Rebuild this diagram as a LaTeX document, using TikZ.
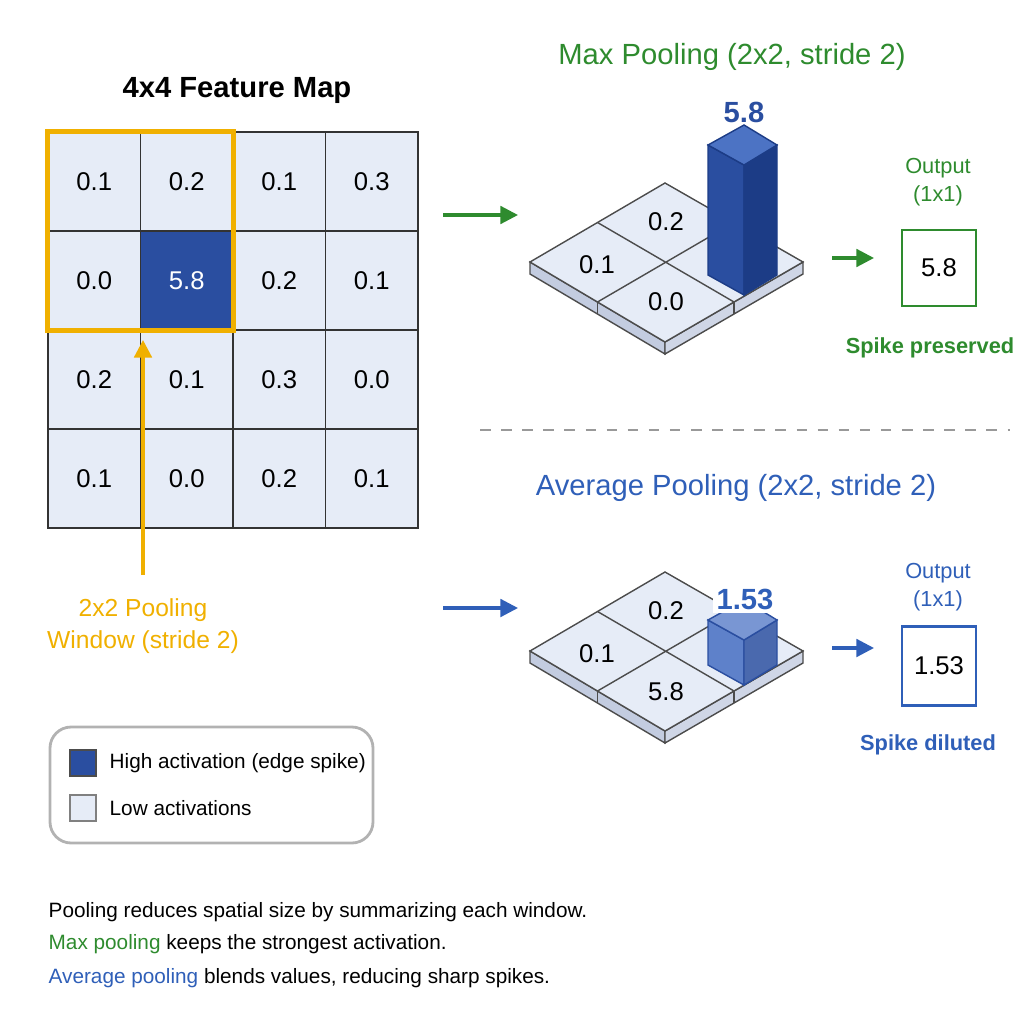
\documentclass[tikz,border=0pt]{standalone}
\usepackage{fontspec}
\setmainfont{Liberation Sans}
\usepackage{tikz}
\usetikzlibrary{arrows.meta}
\definecolor{cellbg}{HTML}{E6ECF7}
\definecolor{hiblue}{HTML}{2A4EA0}
\definecolor{dkblue}{HTML}{1C3C86}
\definecolor{topblue}{HTML}{4C73C4}
\definecolor{maxgreen}{HTML}{2E8B2E}
\definecolor{avgblue}{HTML}{2F5FB8}
\definecolor{winyellow}{HTML}{F0B000}
\definecolor{sideblue}{HTML}{C3CCE0}
% isometric plate, #1 = y of its top corner
\newcommand{\plate}[1]{
  \begin{scope}[shift={(0,#1)}]
    \fill[sideblue,draw=black!70,thin] (530,79) -- (665,159) -- (665,171) -- (530,91) -- cycle;
    \fill[sideblue!80,draw=black!70,thin] (665,159) -- (803,79) -- (803,91) -- (665,171) -- cycle;
    \draw[black!70,thin] (597.5,119) -- (597.5,131) (734,119) -- (734,131);
    \fill[cellbg,draw=black!70,thin] (530,79) -- (665,0) -- (803,79) -- (665,159) -- cycle;
    \draw[black!70,thin] (597.5,39.5) -- (734,119) (597.5,119) -- (734,39.5);
  \end{scope}}
\begin{document}
\begin{tikzpicture}[x=0.01cm,y=-0.01cm,
    cell/.style={draw=black!80,fill=cellbg,minimum width=0.925cm,minimum height=0.99cm,
      font=\fontsize{7.3}{9}\selectfont,inner sep=0pt},
    val/.style={font=\fontsize{7.3}{9}\selectfont},
    lbl/.style={font=\fontsize{6.2}{8}\selectfont},
    note/.style={font=\fontsize{5.9}{7}\selectfont,anchor=west,inner sep=0pt},
    ttl/.style={font=\fontsize{8.3}{10}\selectfont},
    arr/.style={-{Triangle[length=5pt,width=5pt]},line width=0.9pt}]
  \useasboundingbox (0,0) rectangle (1024,1024);
  % feature map
  \node[font=\bfseries\fontsize{8.3}{10}\selectfont] (fmtitle) at (237,90) {4x4 Feature Map};
  \foreach \row [count=\r from 0] in {{0.1,0.2,0.1,0.3},{0.0,5.8,0.2,0.1},{0.2,0.1,0.3,0.0},{0.1,0.0,0.2,0.1}}
    \foreach \v [count=\c from 0] in \row
      \node[cell] (c\r\c) at ({94.25+92.5*\c},{181.5+99*\r}) {\v};
  \node[cell,fill=hiblue,text=white] at (c11) {5.8};
  \draw[black!80] (c00.north west) rectangle (c33.south east);
  \draw[winyellow,line width=1.4pt] (c00.north west) rectangle (c11.south east);
  \coordinate (wintail) at (143,575);
  \draw[arr,winyellow] (wintail) -- (143,340);
  \node[text=winyellow,align=center,font=\fontsize{7}{9.2}\selectfont] (winlbl) at (143,626) {2x2 Pooling\\Window (stride 2)};
  % max pooling
  \node[ttl,text=maxgreen] (maxtitle) at (732,57) {Max Pooling (2x2, stride 2)};
  \coordinate (maxa) at (443,215); \coordinate (maxb) at (518,215);
  \draw[arr,maxgreen] (maxa) -- (maxb);
  \plate{183}
  \node[val] (m1) at (597,265) {0.1};
  \node[val] (m2) at (666,222) {0.2};
  \node[val] (m3) at (666,302) {0.0};
  \fill[hiblue,draw=dkblue] (708,275) -- (744,295) -- (744,165) -- (708,145) -- cycle;
  \fill[dkblue,draw=dkblue] (744,295) -- (777,275) -- (777,145) -- (744,165) -- cycle;
  \fill[topblue,draw=dkblue] (708,145) -- (744,125) -- (777,145) -- (744,165) -- cycle;
  \node[font=\bfseries\fontsize{8.3}{10}\selectfont,text=hiblue] (mval) at (744,112) {5.8};
  \coordinate (maxc) at (832,258); \coordinate (maxd) at (874,258);
  \draw[arr,maxgreen] (maxc) -- (maxd);
  \node[lbl,text=maxgreen,align=center] (maxout) at (938,182) {Output\\(1x1)};
  \node[draw=maxgreen,thick,minimum width=0.74cm,minimum height=0.76cm,val] (maxbox) at (939,268) {5.8};
  \node[text=maxgreen,font=\bfseries\fontsize{6.2}{8}\selectfont] (maxnote) at (930,348) {Spike preserved};
  % divider
  \draw[black!40,dashed,thick] (480,430) -- (1010,430);
  % average pooling
  \node[ttl,text=avgblue] (avgtitle) at (736,488) {Average Pooling (2x2, stride 2)};
  \coordinate (avga) at (443,608); \coordinate (avgb) at (518,608);
  \draw[arr,avgblue] (avga) -- (avgb);
  \plate{572}
  \node[val] (a1) at (597,654) {0.1};
  \node[val] (a2) at (666,611) {0.2};
  \node[val] (a3) at (666,692) {5.8};
  \fill[topblue!90,draw=hiblue] (708,665) -- (744,685) -- (744,640) -- (708,620) -- cycle;
  \fill[hiblue!85,draw=hiblue] (744,685) -- (777,665) -- (777,620) -- (744,640) -- cycle;
  \fill[topblue!75,draw=hiblue] (708,620) -- (744,600) -- (777,620) -- (744,640) -- cycle;
  \node[font=\bfseries\fontsize{8.3}{10}\selectfont,text=avgblue,fill=white,inner sep=1pt] (aval) at (745,599) {1.53};
  \coordinate (avgc) at (832,648); \coordinate (avgd) at (874,648);
  \draw[arr,avgblue] (avgc) -- (avgd);
  \node[lbl,text=avgblue,align=center] (avgout) at (938,587) {Output\\(1x1)};
  \node[draw=avgblue,thick,minimum width=0.74cm,minimum height=0.79cm,val] (avgbox) at (939,666) {1.53};
  \node[text=avgblue,font=\bfseries\fontsize{6.2}{8}\selectfont] (avgnote) at (928,745) {Spike diluted};
  % legend
  \draw[black!30,thick,rounded corners=6pt] (50,727) rectangle (373,843);
  \draw[black!70,fill=hiblue] (70,750) rectangle (96,776);
  \node[note] (leghi) at (109,763) {High activation (edge spike)};
  \draw[black!50,fill=cellbg] (70,795) rectangle (96,821);
  \node[note] (leglo) at (109,808) {Low activations};
  % notes
  \node[note] (note1) at (48,912) {Pooling reduces spatial size by summarizing each window.};
  \node[note] (note2) at (48,944) {\textcolor{maxgreen}{Max pooling} keeps the strongest activation.};
  \node[note] (note3) at (48,978) {\textcolor{avgblue}{Average pooling} blends values, reducing sharp spikes.};
\end{tikzpicture}
\end{document}
